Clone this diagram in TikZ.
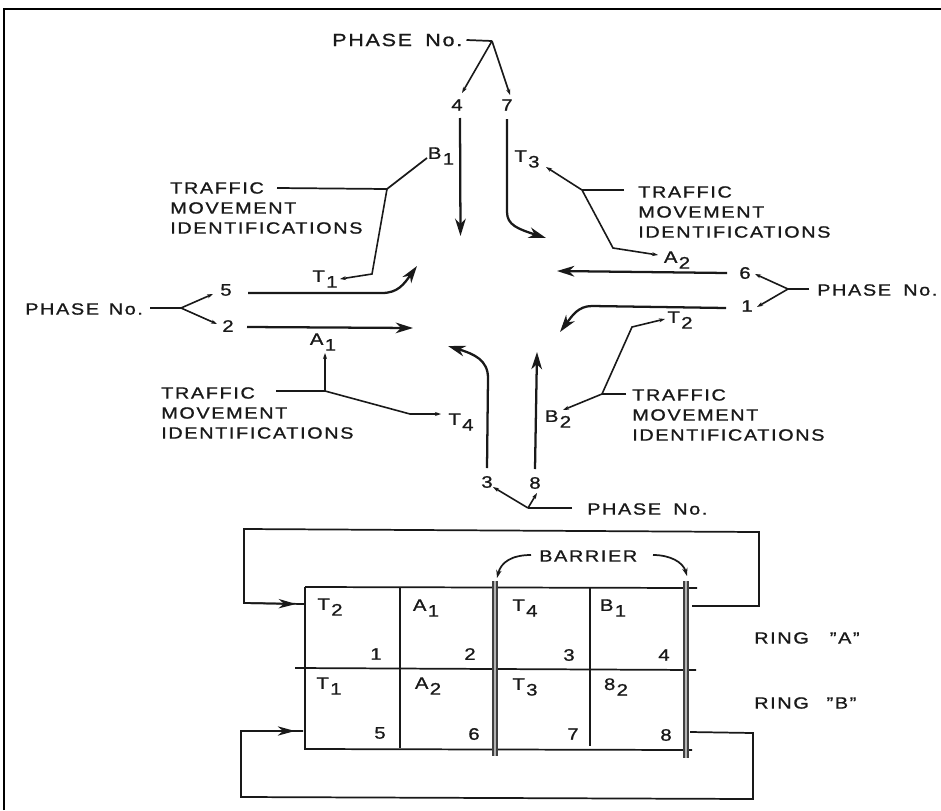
\documentclass[tikz,border=0pt]{standalone}
\usepackage{fontspec}
\setmainfont[LetterSpace=10,FakeStretch=1.22,FakeBold=1]{Liberation Sans}
\usetikzlibrary{arrows.meta}
\newcommand{\lblsub}[2]{#1\kern1pt\raisebox{-0.65ex}{#2}}
\newcommand{\phaseno}{PHASE\hspace{0.75em}No.}
\tikzset{
 ln/.style={line width=1.3pt,black!90},
 flow/.style={line width=1.7pt,black!90,-{Stealth[length=13pt,width=8pt,inset=4pt]}},
 lead/.style={line width=1.2pt,black!90,-{Stealth[length=4.5pt,width=3pt]}},
 txt/.style={inner sep=0pt,font=\fontsize{12.2}{15}\selectfont,text=black!90,align=left},
 num/.style={inner sep=0pt,font=\fontsize{12.5}{15}\selectfont,text=black!90},
 barrier/.style={line width=4pt,black!75},
 barrierin/.style={line width=1pt,black!30}
}
\begin{document}
\begin{tikzpicture}[x=0.75pt,y=-0.75pt]
\useasboundingbox (0,0) rectangle (941,810);
\fill[white] (0,0) rectangle (941,810);
\draw[line width=1.9pt,black] (4,810) -- (4,9) -- (941,9);

% text
\node[txt,anchor=west,font=\fontsize{13.2}{15}\selectfont] (phT) at (332,40) {\phaseno};
\node[txt,anchor=west] (phL) at (25,309) {PHASE\hspace{0.6em}No.};
\node[txt,anchor=west] (phR) at (817,290) {\phaseno};
\node[txt,anchor=west] (phB) at (587,509) {\phaseno};
\node[txt,anchor=west] (tmTL) at (170,208) {TRAFFIC\\MOVEMENT\\IDENTIFICATIONS};
\node[txt,anchor=west] (tmBL) at (161,413) {TRAFFIC\\MOVEMENT\\IDENTIFICATIONS};
\node[txt,anchor=west] (tmTR) at (638,212) {TRAFFIC\\MOVEMENT\\IDENTIFICATIONS};
\node[txt,anchor=west] (tmBR) at (632,415) {TRAFFIC\\MOVEMENT\\IDENTIFICATIONS};

\node[num] (n4) at (457,105) {4};
\node[num] (n7) at (507,105) {7};
\node[num] (n5) at (226,290) {5};
\node[num] (n2) at (228,326) {2};
\node[num] (n6) at (745,273) {6};
\node[num] (n1) at (747,306) {1};
\node[num] (n3) at (487,482) {3};
\node[num] (n8) at (535,483) {8};

\node[num] (B1) at (441,156) {\lblsub{B}{1}};
\node[num] (T1) at (325,279) {\lblsub{T}{1}};
\node[num] (A1) at (323,342) {\lblsub{A}{1}};
\node[num] (T4) at (461,422) {\lblsub{T}{4}};
\node[num] (T3) at (527,159) {\lblsub{T}{3}};
\node[num] (A2) at (677,260) {\lblsub{A}{2}};
\node[num] (T2) at (680,320) {\lblsub{T}{2}};
\node[num] (B2) at (558,419) {\lblsub{B}{2}};

% phase leaders
\coordinate (jT) at (492,41);
\coordinate (jL) at (181,308);
\coordinate (jR) at (788,289);
\coordinate (jB) at (528,508);
\draw[ln] (phT.east)++(4,0) -- (jT);
\draw[lead] (jT) -- (462,93);
\draw[lead] (jT) -- (510,95);
\draw[ln] (150,308) -- (jL);
\draw[lead] (jL) -- (213,294);
\draw[lead] (jL) -- (217,324);
\draw[ln] (809,289) -- (jR);
\draw[lead] (jR) -- (755,274);
\draw[lead] (jR) -- (757,307);
\draw[ln] (572,508) -- (jB);
\draw[lead] (jB) -- (493,487);
\draw[lead] (jB) -- (537,493);

% movements
\draw[flow] (460,118) -- (460.5,236);
\draw[flow] (507,119) -- (507,212) .. controls (507,225) and (518,229) .. (546,238);
\draw[flow] (248,293) -- (382,293) .. controls (398,293) and (404,284) .. (417,266);
\draw[flow] (247,327) -- (413,328);
\draw[flow] (727,273) -- (557,271);
\draw[flow] (726,308) -- (592,306) .. controls (578,306) and (572,316) .. (560,332);
\draw[flow] (487,468) -- (488,378) .. controls (488,360) and (474,354) .. (448,346);
\draw[flow] (535,469) -- (537,352);

% identification leaders
\coordinate (jTL) at (387,189);
\coordinate (jBL) at (325,391);
\coordinate (jTR) at (582,190);
\coordinate (jBR) at (602,394);
\draw[ln] (277,188) -- (jTL);
\draw[ln] (jTL) -- (427,158);
\draw[lead] (jTL) -- (372,274) -- (340,279);
\draw[ln] (276,391) -- (jBL);
\draw[lead] (jBL) -- (325,353);
\draw[lead] (jBL) -- (410,414) -- (441,414);
\draw[ln] (624,190) -- (jTR);
\draw[lead] (jTR) -- (546,167);
\draw[lead] (jTR) -- (613,248) -- (658,255);
\draw[ln] (626,394) -- (jBR);
\draw[lead] (jBR) -- (563,410);
\draw[lead] (jBR) -- (632,327) -- (665,319);

% table
\draw[ln] (305,587) -- (697,588);
\draw[ln] (305,587) -- (305,749) -- (692,750);
\draw[ln] (295,668) -- (696,670);
\draw[ln] (400,587) -- (400,748);
\draw[ln] (590,588) -- (590,746);
\draw[barrier] (495,581) -- (495,756);
\draw[barrierin] (495,581) -- (495,756);
\draw[barrier] (686,581) -- (686,758);
\draw[barrierin] (686,581) -- (686,758);

% return paths
\coordinate (rAs) at (692,606);
\coordinate (rAe) at (304,604);
\coordinate (rBs) at (690,732);
\coordinate (rBe) at (303,731);
\draw[ln] (rAs) -- (759,606) -- (759,532) -- (244,529) -- (244,603) -- (rAe);
\draw[ln,-{Stealth[length=13pt,width=7pt,inset=4pt]}] (244,603) -- (296,604);
\draw[ln] (rBs) -- (753,733) -- (753,799) -- (241,797) -- (241,731) -- (rBe);
\draw[ln,-{Stealth[length=13pt,width=7pt,inset=4pt]}] (241,731) -- (295,731);

% cell text
\node[num] (cT2) at (330,607) {\lblsub{T}{2}};
\node[num] (cA1) at (426,608) {\lblsub{A}{1}};
\node[num] (cT4) at (525,608) {\lblsub{T}{4}};
\node[num] (cB1) at (613,608) {\lblsub{B}{1}};
\node[num] (cT1) at (329,686) {\lblsub{T}{1}};
\node[num] (cA2) at (428,686) {\lblsub{A}{2}};
\node[num] (cT3) at (525,687) {\lblsub{T}{3}};
\node[num] (cB2) at (616,687) {\lblsub{8}{2}};
\node[num] (c1) at (376,654) {1};
\node[num] (c2) at (470,654) {2};
\node[num] (c3) at (569,655) {3};
\node[num] (c4) at (664,655) {4};
\node[num] (c5) at (380,733) {5};
\node[num] (c6) at (474,734) {6};
\node[num] (c7) at (573,734) {7};
\node[num] (c8) at (666,735) {8};

\node[txt,anchor=west] (barr) at (539,556) {BARRIER};
\draw[ln,-{Stealth[length=6pt,width=4pt]}] (531,555) .. controls (512,555) and (501,562) .. (497,578);
\draw[ln,-{Stealth[length=6pt,width=4pt]}] (653,555) .. controls (670,555) and (683,562) .. (687,576);

\node[txt,anchor=west] (rA) at (754,638) {RING\hspace{1.3em}"A"};
\node[txt,anchor=west] (rB) at (754,703) {RING\hspace{1.1em}"B"};
\end{tikzpicture}
\end{document}
